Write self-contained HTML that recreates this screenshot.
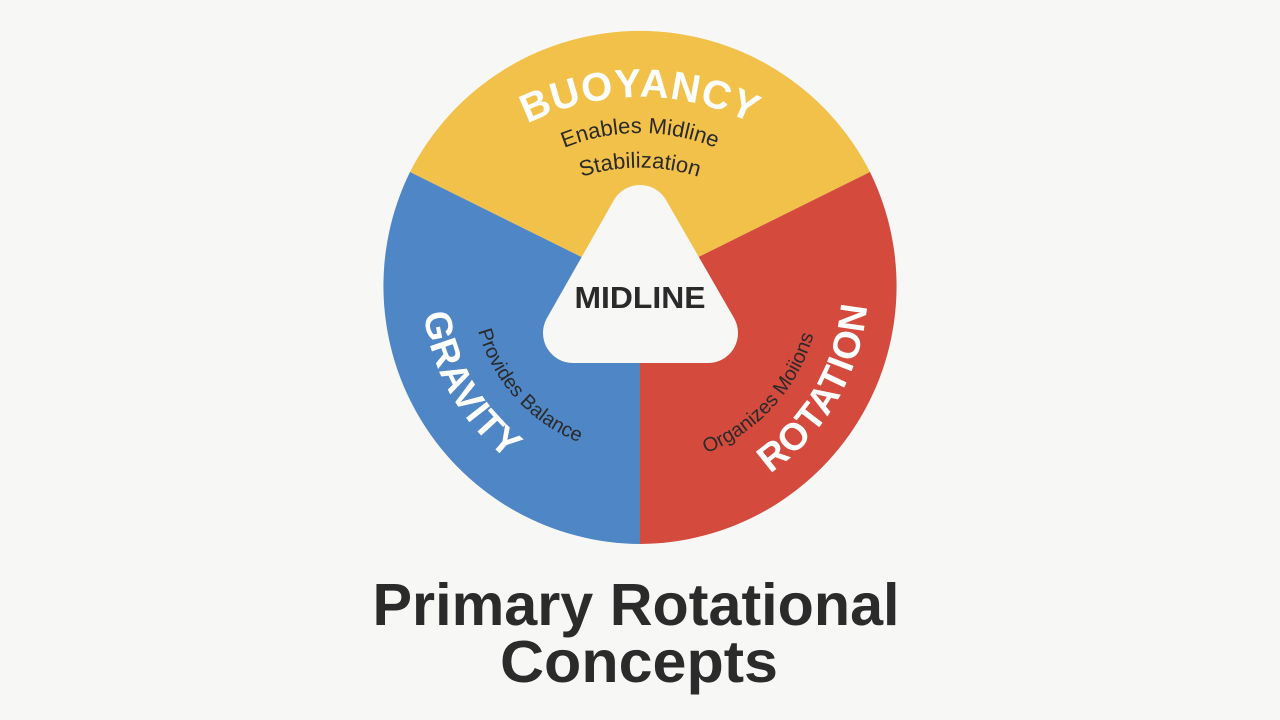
<!DOCTYPE html>
<html><head><meta charset="utf-8"><style>
html,body{margin:0;padding:0;background:#f7f7f5;}
svg{display:block}
</style></head><body>
<svg width="1280" height="720" viewBox="0 0 1280 720" xmlns="http://www.w3.org/2000/svg">
<rect width="1280" height="720" fill="#f7f7f5"/>
<defs>
<path id="pB" d="M 440 197 A 250 250 0 0 1 840 197"/>
<path id="pE" d="M 480 213 A 200 200 0 0 1 800 213"/>
<path id="pS" d="M 490 241 A 190 190 0 0 1 790 241"/>
<path id="pG" d="M 423 267 A 218 218 0 0 0 548 484"/>
<path id="pP" d="M 472 292 A 168 168 0 0 0 617 452"/>
<path id="pR" d="M 736 493 A 228 228 0 0 0 867 266"/>
<path id="pO" d="M 671 463 A 180 180 0 0 0 820 299"/>
</defs>
<path d="M640 286 L410 172 A258 258 0 0 1 870 172 Z" fill="#f2c14a"/>
<path d="M640 286 L870 172 A258 258 0 0 1 640 544 Z" fill="#d44b3d"/>
<path d="M640 286 L640 544 A258 258 0 0 1 410 172 Z" fill="#4f86c6"/>
<polygon points="640,215 573,333 708,333" fill="#f7f7f5" stroke="#f7f7f5" stroke-width="60" stroke-linejoin="round"/>
<text x="640" y="308" text-anchor="middle" font-family="Liberation Sans, sans-serif" font-weight="bold" font-size="31" fill="#2a2a2a" textLength="131" lengthAdjust="spacingAndGlyphs">MIDLINE</text>
<g font-family="Liberation Sans, sans-serif">
<text font-size="40" font-weight="bold" fill="#ffffff" letter-spacing="1"><textPath href="#pB" startOffset="50%" text-anchor="middle">BUOYANCY</textPath></text>
<text font-size="22" fill="#2a2a2a"><textPath href="#pE" startOffset="50%" text-anchor="middle">Enables Midline</textPath></text>
<text font-size="22" fill="#2a2a2a"><textPath href="#pS" startOffset="50%" text-anchor="middle">Stabilization</textPath></text>
<text font-size="38" font-weight="bold" fill="#ffffff" letter-spacing="1"><textPath href="#pG" startOffset="50%" text-anchor="middle">GRAVITY</textPath></text>
<text font-size="20" fill="#2a2a2a"><textPath href="#pP" startOffset="50%" text-anchor="middle">Provides Balance</textPath></text>
<text font-size="38" font-weight="bold" fill="#ffffff" letter-spacing="1"><textPath href="#pR" startOffset="50%" text-anchor="middle">ROTATION</textPath></text>
<text font-size="20" fill="#2a2a2a"><textPath href="#pO" startOffset="50%" text-anchor="middle">Organizes Moiions</textPath></text>
</g>
<text x="636" y="625" text-anchor="middle" font-family="Liberation Sans, sans-serif" font-weight="bold" font-size="59" fill="#2b2b2b" textLength="527" lengthAdjust="spacingAndGlyphs">Primary Rotational</text>
<text x="639" y="682" text-anchor="middle" font-family="Liberation Sans, sans-serif" font-weight="bold" font-size="59" fill="#2b2b2b" textLength="278" lengthAdjust="spacingAndGlyphs">Concepts</text>
</svg>
</body></html>
